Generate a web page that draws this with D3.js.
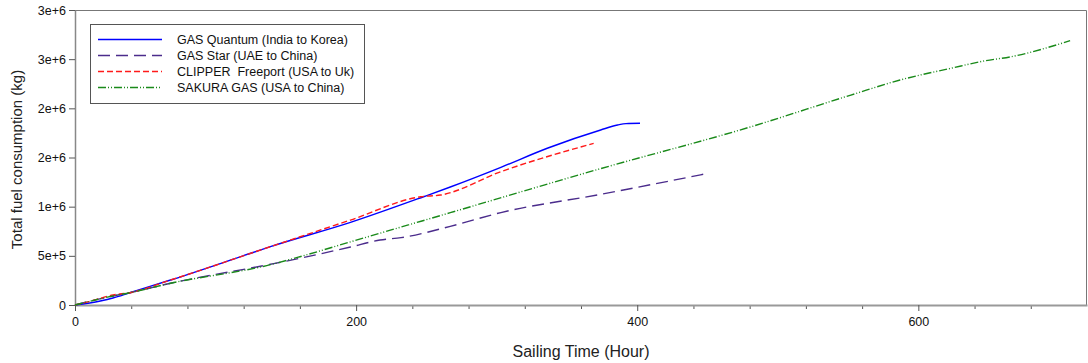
<!DOCTYPE html>
<html>
<head>
<meta charset="utf-8">
<script src="https://cdn.jsdelivr.net/npm/d3@7"></script>
<style>
  body { margin: 0; background: #fff; }
  svg { display: block; font-family: "Liberation Sans", Arial, sans-serif; }
  .tick text { fill: #111; }
</style>
</head>
<body>
<div id="chart"></div>
<script>

// series: [sailing hours, total fuel (kg)]
const gasQuantum = [[0, 0], [18, 41000], [27, 71000], [39, 125000], [68, 254000], [125, 526000], [139, 593000],
	[196, 840000], [248, 1101000], [267, 1200000], [303, 1400000], [336, 1594000], [374, 1780000],
	[386, 1830000], [392, 1845000], [402, 1848000]];
const gasStar = [[0, 0], [27, 92000], [39, 125000], [68, 221000], [139, 414000], [160, 475000], [196, 590000],
	[217, 661000], [232, 685000], [267, 800000], [303, 940000], [374, 1125000], [449, 1335000]];
const clipper = [[0, 0], [10, 35000], [27, 102000], [39, 125000], [68, 254000], [139, 593000], [196, 864000],
	[246, 1101000], [260, 1118000], [303, 1356000], [369, 1644000]];
const sakura = [[0, 0], [27, 92000], [39, 125000], [68, 221000], [139, 410000], [160, 491000], [196, 642000],
	[267, 939000], [374, 1387000], [481, 1813000], [552, 2135000], [587, 2288000], [624, 2410000],
	[647, 2482000], [666, 2525000], [708, 2688000]];

const seriesNames = ["GAS Quantum (India to Korea)", "GAS Star (UAE to China)", "CLIPPER  Freeport (USA to Uk)", "SAKURA GAS (USA to China)"];

const xMajorTicks = [0, 200, 400, 600];
const xMinorTicks = [40, 80, 120, 160, 240, 280, 320, 360, 440, 480, 520, 560, 640, 680];
const yTicks = [0, 500000, 1000000, 1500000, 2000000, 2500000, 3000000];
const yTickLabels = ["0", "5e+5", "1e+6", "2e+6", "2e+6", "3e+6", "3e+6"];

const styles = [
	{ color: "#0000ff", dash: null },
	{ color: "#4b2c8c", dash: "12,6" },
	{ color: "#ff1a1a", dash: "6,3" },
	{ color: "#1a8a1a", dash: "8,2,1,2,1,2" }
];

const margin = { top: 10, right: 1, bottom: 58, left: 75 };
const W = 1088, H = 363;
const width = W - margin.left - margin.right;
const height = H - margin.top - margin.bottom;

const svg = d3.select("#chart").append("svg")
	.attr("width", W)
	.attr("height", H);

const g = svg.append("g")
	.attr("transform", `translate(${margin.left},${margin.top})`);

const x = d3.scaleLinear().domain([0, 720]).range([0, width]);
const y = d3.scaleLinear().domain([0, 3000000]).range([height, 0]);

// frame (top + right)
g.append("path")
	.attr("d", `M0,0.5H${width - 0.5}V${height}`)
	.attr("fill", "none")
	.attr("stroke", "#777")
	.attr("stroke-width", 1);

// minor x ticks
g.append("g")
	.attr("transform", `translate(0,${height})`)
	.call(d3.axisBottom(x).tickValues(xMinorTicks).tickSize(4).tickFormat(""))
	.call(a => a.select(".domain").remove())
	.call(a => a.selectAll("line").attr("stroke", "#555"));

// major x axis
g.append("g")
	.attr("transform", `translate(0,${height})`)
	.call(d3.axisBottom(x).tickValues(xMajorTicks).tickSize(6).tickSizeOuter(0).tickPadding(6))
	.call(a => a.select(".domain").attr("stroke", "#999").attr("stroke-width", 2))
	.call(a => a.selectAll("line").attr("stroke", "#555"))
	.call(a => a.selectAll("text").attr("font-size", 12.5).attr("font-family", "Liberation Sans, Arial"));

// y axis
g.append("g")
	.call(d3.axisLeft(y).tickValues(yTicks).tickSize(6).tickSizeOuter(0).tickPadding(3)
		.tickFormat((d, i) => yTickLabels[i]))
	.call(a => a.select(".domain").attr("stroke", "#888").attr("stroke-width", 1.5))
	.call(a => a.selectAll("line").attr("stroke", "#555"))
	.call(a => a.selectAll("text").attr("font-size", 12.5).attr("font-family", "Liberation Sans, Arial"));

// axis titles
svg.append("text")
	.attr("transform", `translate(22,${margin.top + height / 2 + 2}) rotate(-90)`)
	.attr("text-anchor", "middle")
	.attr("font-size", 15)
	.attr("fill", "#222")
	.text("Total fuel consumption (kg)");

svg.append("text")
	.attr("x", margin.left + width / 2)
	.attr("y", 357)
	.attr("text-anchor", "middle")
	.attr("font-size", 16)
	.attr("fill", "#222")
	.text("Sailing Time (Hour)");

// lines
const line = d3.line()
	.x(d => x(d[0]))
	.y(d => y(d[1]))
	.curve(d3.curveMonotoneX);

[gasQuantum, gasStar, clipper, sakura].forEach((data, i) => {
	g.append("path")
		.datum(data)
		.attr("fill", "none")
		.attr("stroke", styles[i].color)
		.attr("stroke-width", 1.4)
		.attr("stroke-dasharray", styles[i].dash)
		.attr("d", line);
});

// legend
const legend = svg.append("g").attr("transform", "translate(90,24)");
legend.append("rect")
	.attr("x", 0.5).attr("y", 0.5)
	.attr("width", 274).attr("height", 79)
	.attr("fill", "#fff")
	.attr("stroke", "#555");

seriesNames.forEach((name, i) => {
	const row = legend.append("g").attr("transform", `translate(0,${15.5 + i * 16})`);
	row.append("line")
		.attr("x1", 8).attr("x2", 72)
		.attr("stroke", styles[i].color)
		.attr("stroke-width", 1.4)
		.attr("stroke-dasharray", styles[i].dash);
	row.append("text")
		.attr("x", 87)
		.attr("dy", "0.35em")
		.attr("font-size", 12.5)
		.attr("fill", "#111")
		.style("white-space", "pre")
		.text(name);
});
</script>
</body>
</html>
